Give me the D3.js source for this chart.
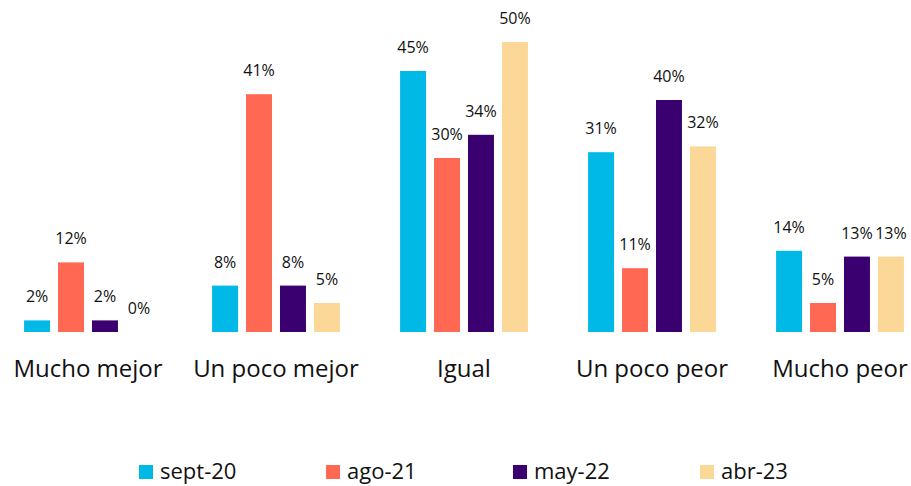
<!DOCTYPE html>
<html><head><meta charset="utf-8">
<script src="https://cdn.jsdelivr.net/npm/d3@7"></script>
<style>body{margin:0;background:#fff}svg{display:block}text{font-family:"Open Sans",sans-serif;fill:#111}</style>
</head><body>
<svg id="c" width="911" height="486"></svg>
<script>
const categories = ["Mucho mejor","Un poco mejor","Igual","Un poco peor","Mucho peor"];
const seriesNames = ["sept-20","ago-21","may-22","abr-23"];
const sept20 = [2,8,45,31,14];
const ago21 = [12,41,30,11,5];
const may22 = [2,8,34,40,13];
const abr23 = [0,5,50,32,13];
const colors = ["#00B9E7","#FF6853","#3A006F","#FCD898"];
const seriesValues = [sept20, ago21, may22, abr23];

const svg = d3.select("#c");
const x0 = d3.scaleBand().domain(categories).range([-6, 934]).paddingInner(0.32).paddingOuter(0.16);
const x1 = d3.scaleBand().domain(seriesNames).range([0, x0.bandwidth()]).paddingInner(0.235).paddingOuter(0);
const y = d3.scaleLinear().domain([0, 50]).range([332, 42]);

const g = svg.append("g");
categories.forEach((cat, ci) => {
  const gg = g.append("g").attr("transform", `translate(${x0(cat)},0)`);
  seriesNames.forEach((s, si) => {
    const v = seriesValues[si][ci];
    gg.append("rect").attr("x", x1(s)).attr("width", x1.bandwidth())
      .attr("y", y(v)).attr("height", y(0) - y(v)).attr("fill", colors[si]);
    gg.append("text").attr("x", x1(s) + x1.bandwidth()/2).attr("y", y(v) - 18)
      .attr("text-anchor", "middle").attr("font-size", 16).text(v + "%");
  });
  svg.append("text").attr("x", x0(cat) + x0.bandwidth()/2).attr("y", 377)
    .attr("text-anchor", "middle").attr("font-size", 24).text(cat);
});

const legend = svg.append("g");
const lx = d3.scalePoint().domain(seriesNames).range([139, 700]);
seriesNames.forEach((s, si) => {
  legend.append("rect").attr("x", lx(s)).attr("y", 465).attr("width", 14).attr("height", 14).attr("fill", colors[si]);
  legend.append("text").attr("x", lx(s) + 21).attr("y", 479).attr("font-size", 22).text(s);
});
</script>
</body></html>
